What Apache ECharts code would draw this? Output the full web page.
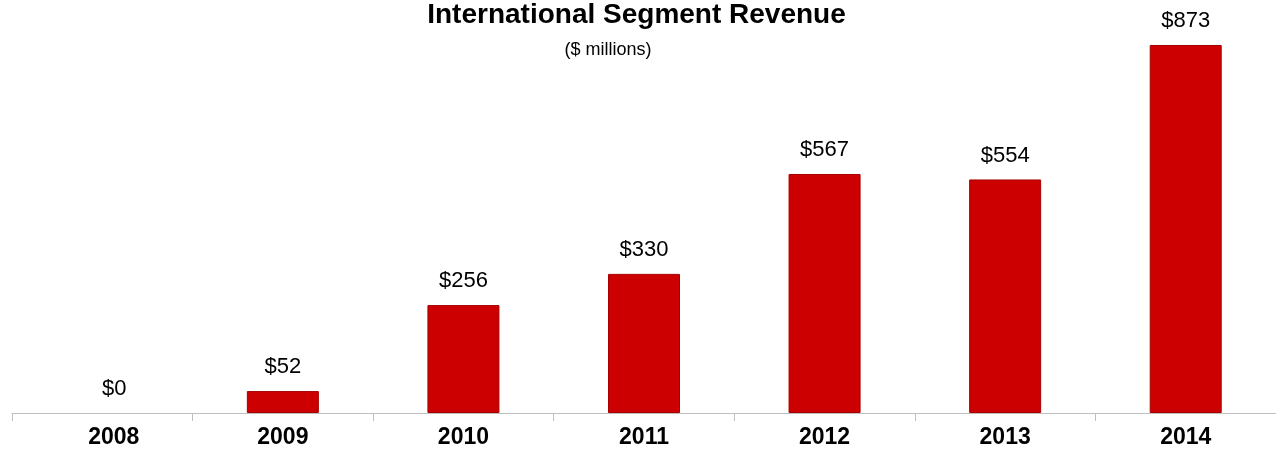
<!DOCTYPE html>
<html>
<head>
<meta charset="utf-8">
<style>
html,body{margin:0;padding:0;background:#fff;}
#chart{width:1276px;height:451px;}
</style>
<script src="https://cdn.jsdelivr.net/npm/echarts@6/dist/echarts.min.js"></script>
</head>
<body>
<div id="chart"></div>
<script>
var categories = ['2008', '2009', '2010', '2011', '2012', '2013', '2014'];
var revenue = [0, 52, 256, 330, 567, 554, 873];
var titleText = 'International Segment Revenue';
var subtitleText = '($ millions)';

var FONT = '"Liberation Sans", Arial, sans-serif';
var chart = echarts.init(document.getElementById('chart'), null, {renderer: 'canvas'});

var barData = revenue.map(function (v, i) {
  var d = {value: v};
  if (i === 0) {
    d.itemStyle = {borderWidth: 0, color: 'rgba(0,0,0,0)'};
    d.label = {offset: [12, 0]};
  }
  return d;
});

chart.setOption({
  backgroundColor: '#ffffff',
  animation: false,
  graphic: [
    {type: 'text', x: 636.5, y: 15, style: {text: titleText, font: 'bold 28px ' + FONT, fill: '#000', textAlign: 'center', textVerticalAlign: 'middle'}},
    {type: 'text', x: 608, y: 50, style: {text: subtitleText, font: '18px ' + FONT, fill: '#000', textAlign: 'center', textVerticalAlign: 'middle'}}
  ],
  grid: {left: 12, width: 1266, top: 33.6, bottom: 38, containLabel: false},
  xAxis: {
    type: 'category',
    data: categories,
    axisLine: {show: true, lineStyle: {color: '#bfbfbf', width: 1}},
    axisTick: {show: true, length: 8, lineStyle: {color: '#bfbfbf'}},
    axisLabel: {
      color: '#000', fontFamily: FONT, fontWeight: 'bold', fontSize: 23, margin: 13,
      formatter: function (v, i) { return i === 0 ? '{first|' + v + '}' : v; },
      rich: {first: {color: '#000', fontFamily: FONT, fontWeight: 'bold', fontSize: 23, padding: [0, 0, 0, 23]}}
    }
  },
  yAxis: {
    type: 'value', min: 0, max: 900, show: false,
    splitLine: {show: false}
  },
  series: [{
    type: 'bar',
    data: barData,
    barWidth: 72,
    itemStyle: {color: '#cc0000', borderColor: '#a60000', borderWidth: 1},
    label: {
      show: true, position: 'top', distance: 13,
      formatter: function (p) { return '$' + p.value; },
      color: '#000', fontFamily: FONT, fontSize: 22
    }
  }]
});
</script>
</body>
</html>
